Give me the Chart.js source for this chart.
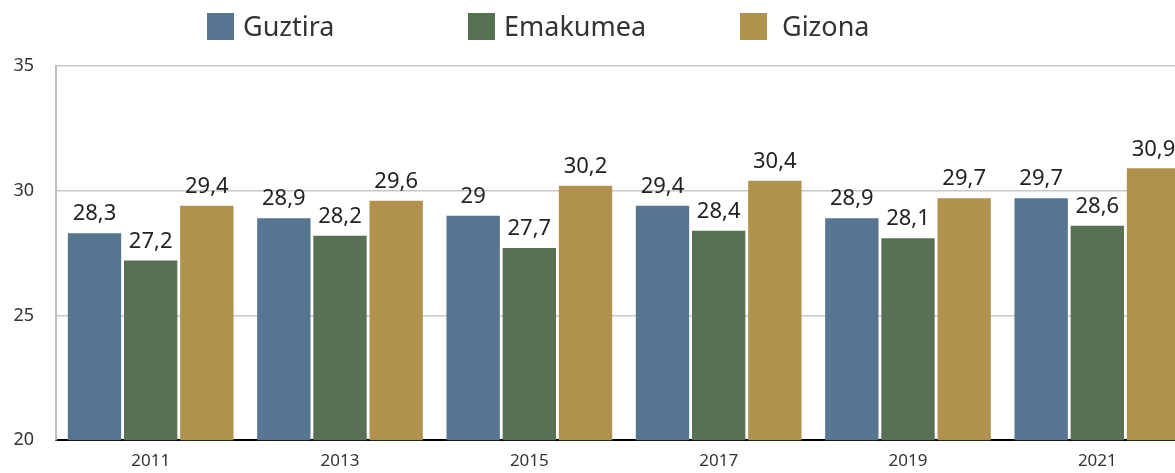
<!DOCTYPE html>
<html>
<head>
<meta charset="utf-8">
<script src="https://cdn.jsdelivr.net/npm/chart.js@4/dist/chart.umd.min.js"></script>
<style>
  html, body { margin: 0; padding: 0; background: #fff; overflow: hidden; }
  #wrap { position: relative; width: 1192px; height: 473px; }
</style>
</head>
<body>
<div id="wrap"><canvas id="chart"></canvas></div>
<script>
// ---- Data ----
const years    = ['2011', '2013', '2015', '2017', '2019', '2021'];
const guztira  = [28.3, 28.9, 29.0, 29.4, 28.9, 29.7];
const emakumea = [27.2, 28.2, 27.7, 28.4, 28.1, 28.6];
const gizona   = [29.4, 29.6, 30.2, 30.4, 29.7, 30.9];
const seriesNames = ['Guztira', 'Emakumea', 'Gizona'];
const yTicks = [20, 25, 30, 35];

const COLORS = ['#557591', '#587053', '#b0924e'];
const FONT = "'Noto Sans', 'Open Sans', sans-serif";

const fmt = v => String(v).replace('.', ',');

// ---- value labels above bars ----
const valueLabels = {
  id: 'valueLabels',
  afterDatasetsDraw(chart) {
    const ctx = chart.ctx;
    ctx.save();
    ctx.font = `22px ${FONT}`;
    ctx.fillStyle = '#222';
    ctx.textAlign = 'center';
    ctx.textBaseline = 'middle';
    chart.data.datasets.forEach((ds, i) => {
      chart.getDatasetMeta(i).data.forEach((bar, j) => {
        ctx.fillText(fmt(ds.data[j]), bar.x, bar.y - 19);
      });
    });
    ctx.restore();
  }
};

// ---- legend in fixed columns (like the original) ----
const legendCols = [207, 468, 740];
const topLegend = {
  id: 'topLegend',
  afterDraw(chart) {
    const ctx = chart.ctx;
    ctx.save();
    ctx.font = `27px ${FONT}`;
    ctx.textBaseline = 'middle';
    ctx.textAlign = 'left';
    seriesNames.forEach((name, i) => {
      const x = legendCols[i];
      ctx.fillStyle = COLORS[i];
      ctx.fillRect(x, 13, 27, 27);
      ctx.fillStyle = '#333';
      ctx.fillText(name, x + 36 + (i === 2 ? 6 : 0), 28);
    });
    ctx.restore();
  }
};

new Chart(document.getElementById('chart'), {
  type: 'bar',
  data: {
    labels: years,
    datasets: [guztira, emakumea, gizona].map((d, i) => ({
      label: seriesNames[i],
      data: d,
      backgroundColor: COLORS[i],
      borderWidth: 0,
      categoryPercentage: 0.89,
      barPercentage: 0.95
    }))
  },
  options: {
    responsive: true,
    maintainAspectRatio: false,
    animation: false,
    layout: { padding: { top: 66, bottom: 0, right: 0, left: 0 } },
    plugins: {
      legend: { display: false },
      tooltip: { enabled: false }
    },
    scales: {
      x: {
        afterFit: s => { s.height = 30; },
        grid: { display: false, drawTicks: false },
        border: { display: true, color: '#000', width: 2 },
        ticks: { color: '#333', font: { family: FONT, size: 17 }, padding: 11 }
      },
      y: {
        min: 20,
        max: 35,
        afterBuildTicks: s => { s.ticks = yTicks.map(v => ({ value: v })); },
        afterFit: s => { s.width = 56; },
        grid: {
          drawTicks: false,
          color: ctx => ctx.tick && ctx.tick.value === 20 ? 'rgba(0,0,0,0)' : '#c8c8c8',
          lineWidth: 1.5
        },
        border: { display: true, color: '#bdbdbd', width: 2 },
        ticks: { color: '#333', font: { family: FONT, size: 18 }, padding: 22 }
      }
    }
  },
  plugins: [valueLabels, topLegend]
});
</script>
</body>
</html>
